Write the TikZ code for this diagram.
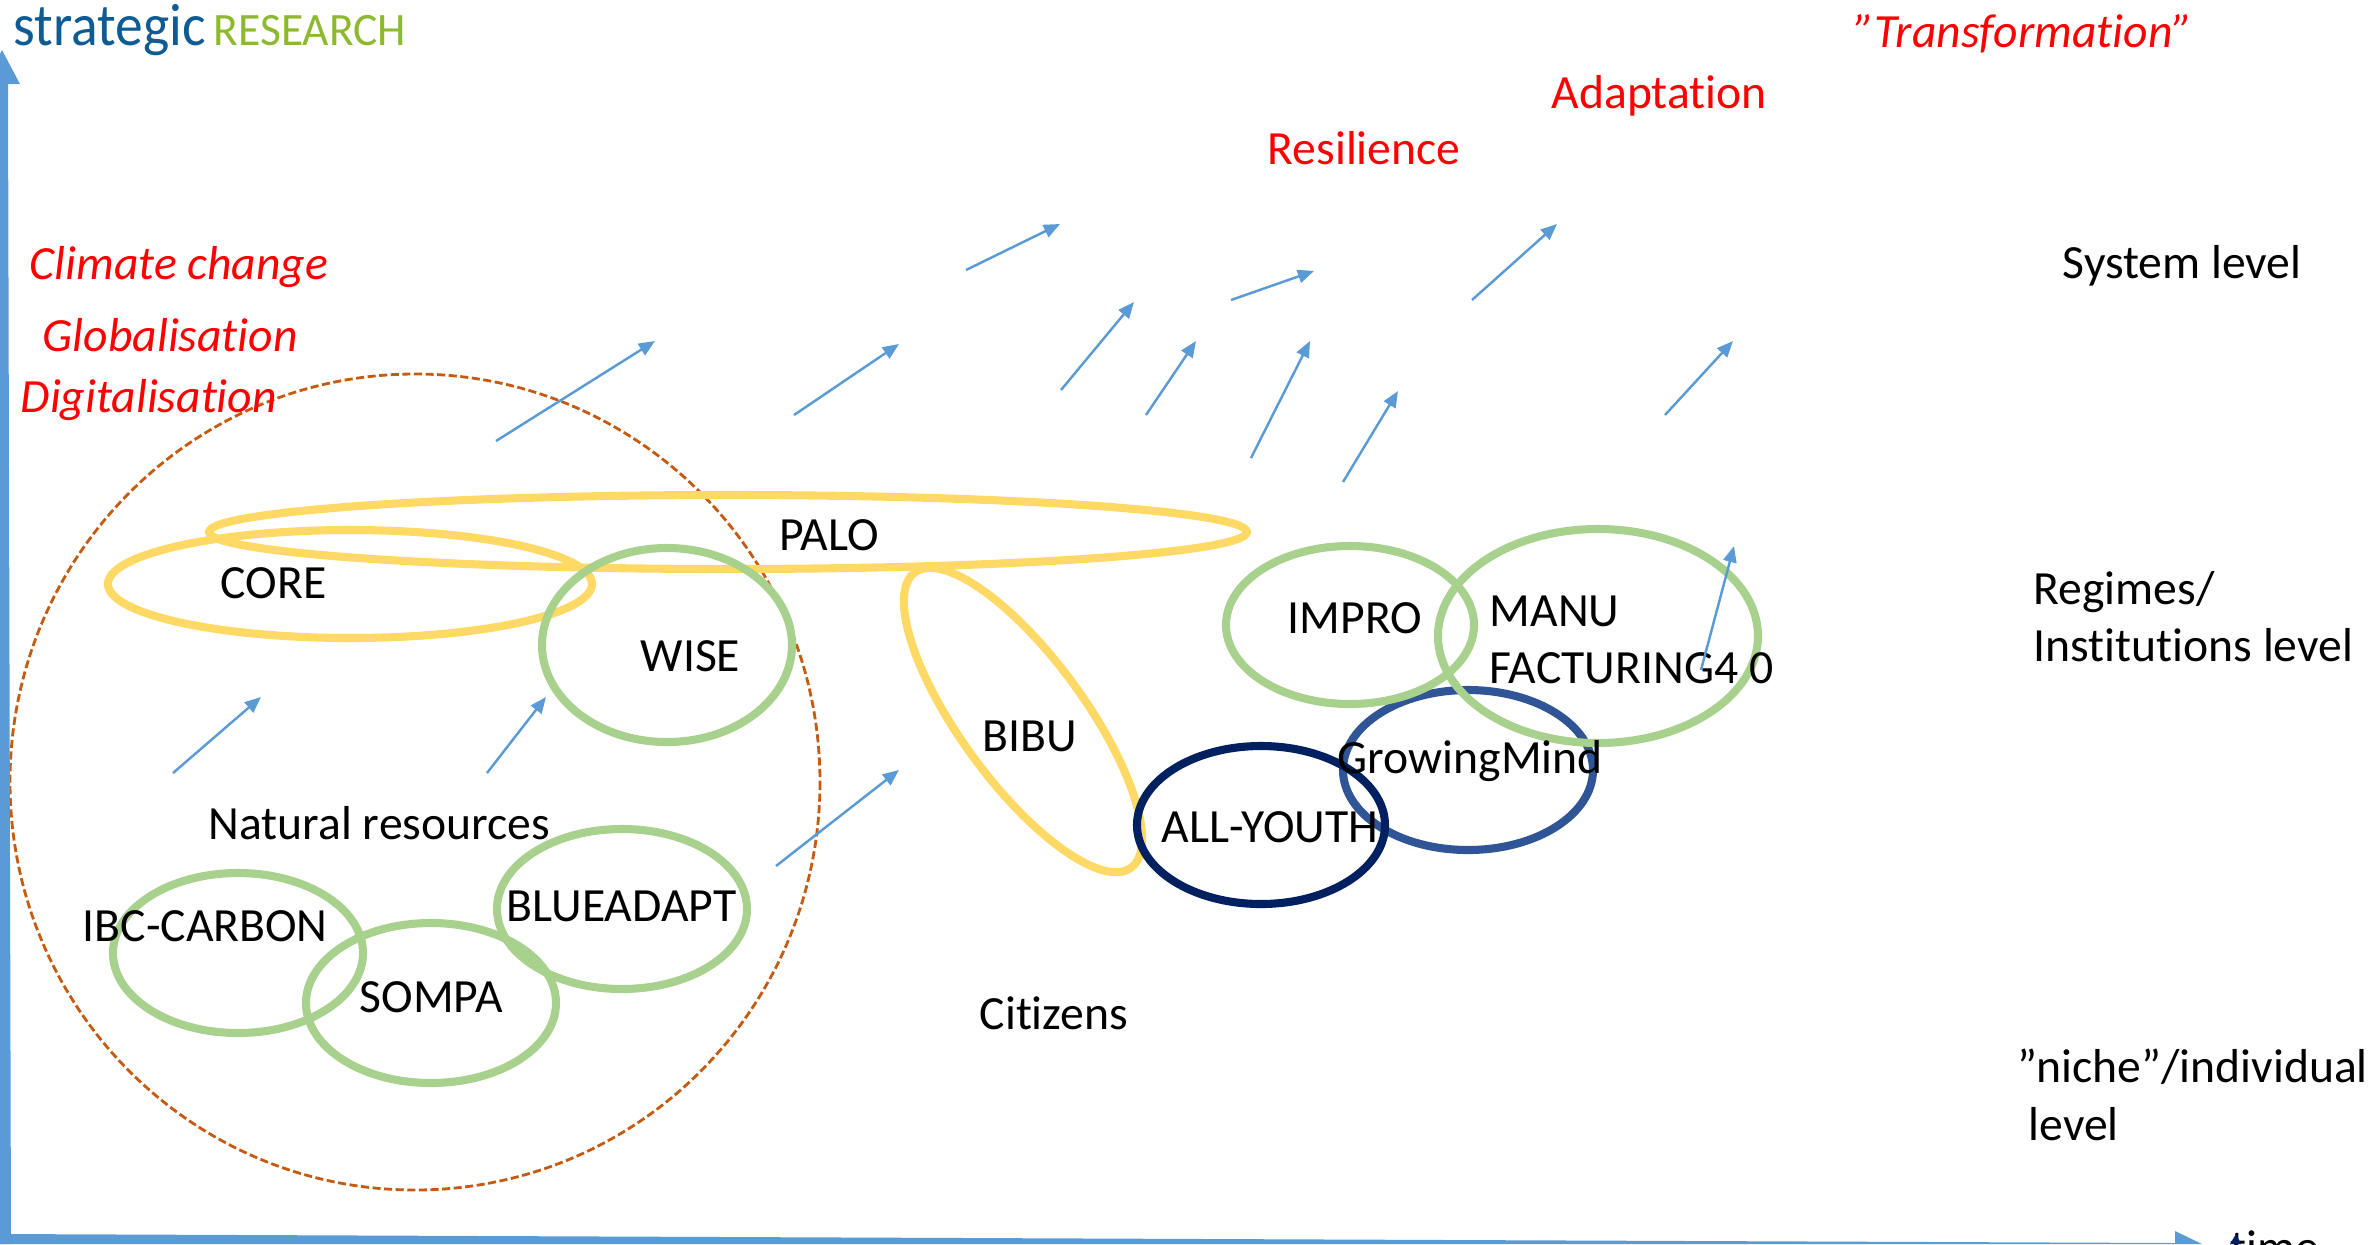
\documentclass[tikz,border=0pt]{standalone}
\usepackage{fontspec}
\setmainfont{Carlito}[Ligatures=NoCommon]
\usetikzlibrary{arrows.meta}
\definecolor{axisblue}{HTML}{5B9BD5}
\definecolor{ringgreen}{HTML}{A9D18E}
\definecolor{ringyellow}{HTML}{FFD966}
\definecolor{ringblue}{HTML}{2F5597}
\definecolor{ringnavy}{HTML}{002060}
\definecolor{ringorange}{HTML}{C55A11}
\definecolor{logoblue}{HTML}{0F5C94}
\definecolor{logogreen}{HTML}{8DB92E}

\begin{document}
\begin{tikzpicture}[x=0.01cm, y=-0.01cm,
        lbl/.style={anchor=base west, inner sep=0pt, font=\fontsize{13.55}{16}\selectfont},
        drv/.style={lbl, text=red},
        ring/.style={line width=2.3pt},
        trend/.style={draw=axisblue, line width=0.7pt, -{Triangle[length=4.6pt,width=3.8pt]}}]
                \useasboundingbox (0,0) rectangle (2377,1244);

                \draw[color=ringorange, line width=0.8pt, dash pattern=on 2.3pt off 1pt] (415,782) ellipse (405 and 408);
                \draw[ring, color=ringyellow] (350,584) ellipse (242 and 54);
                \draw[ring, color=ringyellow] (728,532) ellipse (519 and 37);
                \draw[ring, color=ringyellow, shift={(1023,720)}, rotate=-53.8] (0,0) ellipse (183 and 62);
                \draw[ring, color=ringgreen] (667,645) ellipse (125 and 97);
                \draw[ring, color=ringgreen] (238,953) ellipse (125 and 80);
                \draw[ring, color=ringgreen] (431,1003) ellipse (125 and 80);
                \draw[ring, color=ringgreen] (622,909) ellipse (125 and 80);
                \draw[ring, color=ringblue] (1468,770) ellipse (125 and 80);
                \draw[ring, color=ringnavy] (1261,825) ellipse (124 and 79);
                \draw[ring, color=ringgreen] (1350,625) ellipse (124 and 79);
                \draw[ring, color=ringgreen] (1598,636) ellipse (160 and 107);

                \node[anchor=base west, inner sep=0pt, text=logoblue, font=\fontsize{17}{20}\selectfont] (strategic) at (13,45) {\scalebox{0.93}[1]{strategic}};
                \node[anchor=base west, inner sep=0pt, text=logogreen, font=\fontsize{13.2}{16}\selectfont] (research) at (213,45) {\scalebox{0.98}[1]{RESEARCH}};

                \node[drv] (climate) at (29,279) {\textit{Climate change}};
                \node[drv] (global) at (42,351) {\textit{Globalisation}};
                \node[drv] (digital) at (20,412) {\textit{Digitalisation}};
                \node[drv] (resilience) at (1267,164) {Resilience};
                \node[drv] (adaptation) at (1551,108) {Adaptation};
                \node[drv] (transformation) at (1854,47) {\textit{”Transformation”}};

                \node[lbl] (system) at (2062,278) {System level};
                \node[lbl] (regimes) at (2033,604) {Regimes/};
                \node[lbl] (institutions) at (2033,661) {Institutions level};
                \node[lbl] (niche) at (2017,1082) {”niche”/individual};
                \node[lbl] (level) at (2028,1140) {level};
                \node[lbl] (time) at (2230,1263) {time};

                \node[lbl] (palo) at (779,550) {PALO};
                \node[lbl] (core) at (220,598) {CORE};
                \node[lbl] (wise) at (640,671) {WISE};
                \node[lbl] (natural) at (208,839) {Natural resources};
                \node[lbl] (ibc) at (82,941) {IBC-CARBON};
                \node[lbl] (sompa) at (359,1012) {SOMPA};
                \node[lbl] (blue) at (506,921) {BLUEADAPT};
                \node[lbl] (bibu) at (982,751) {BIBU};
                \node[lbl] (citizens) at (979,1029) {Citizens};
                \node[lbl] (youth) at (1161,842) {ALL-YOUTH};
                \node[lbl] (growing) at (1337,773) {GrowingMind};
                \node[lbl] (impro) at (1287,633) {IMPRO};
                \node[lbl] (manu) at (1489,626) {MANU};
                \node[lbl] (facturing) at (1489,683) {FACTURING4 0};

                \foreach \xa/\ya/\xb/\yb in {496/441/655/341, 794/415/899/344, 966/270/1060/224,
                        1061/390/1134/302, 1146/415/1196/341, 1231/300/1314/271, 1251/458/1310/341,
                        1343/482/1398/391, 1472/300/1557/224, 1665/415/1733/341, 173/773/261/697,
                        487/773/546/697, 776/866/899/770, 1701/670/1734/546}
                    \draw[trend] (\xa,\ya) -- (\xb,\yb);

                \fill[color=axisblue] (0,1244) -- (0,84) -- (-16,84) -- (2,50) -- (20,84) -- (8,84) -- (11,1244) -- cycle;
                \fill[color=axisblue] (0,1244) -- (0,1234) -- (2175,1243) -- (2175,1231) -- (2202,1244) -- cycle;
                \fill[color=ringnavy] (2230,1244) -- (2236,1234) -- (2241,1244) -- cycle;
            \end{tikzpicture}
\end{document}
